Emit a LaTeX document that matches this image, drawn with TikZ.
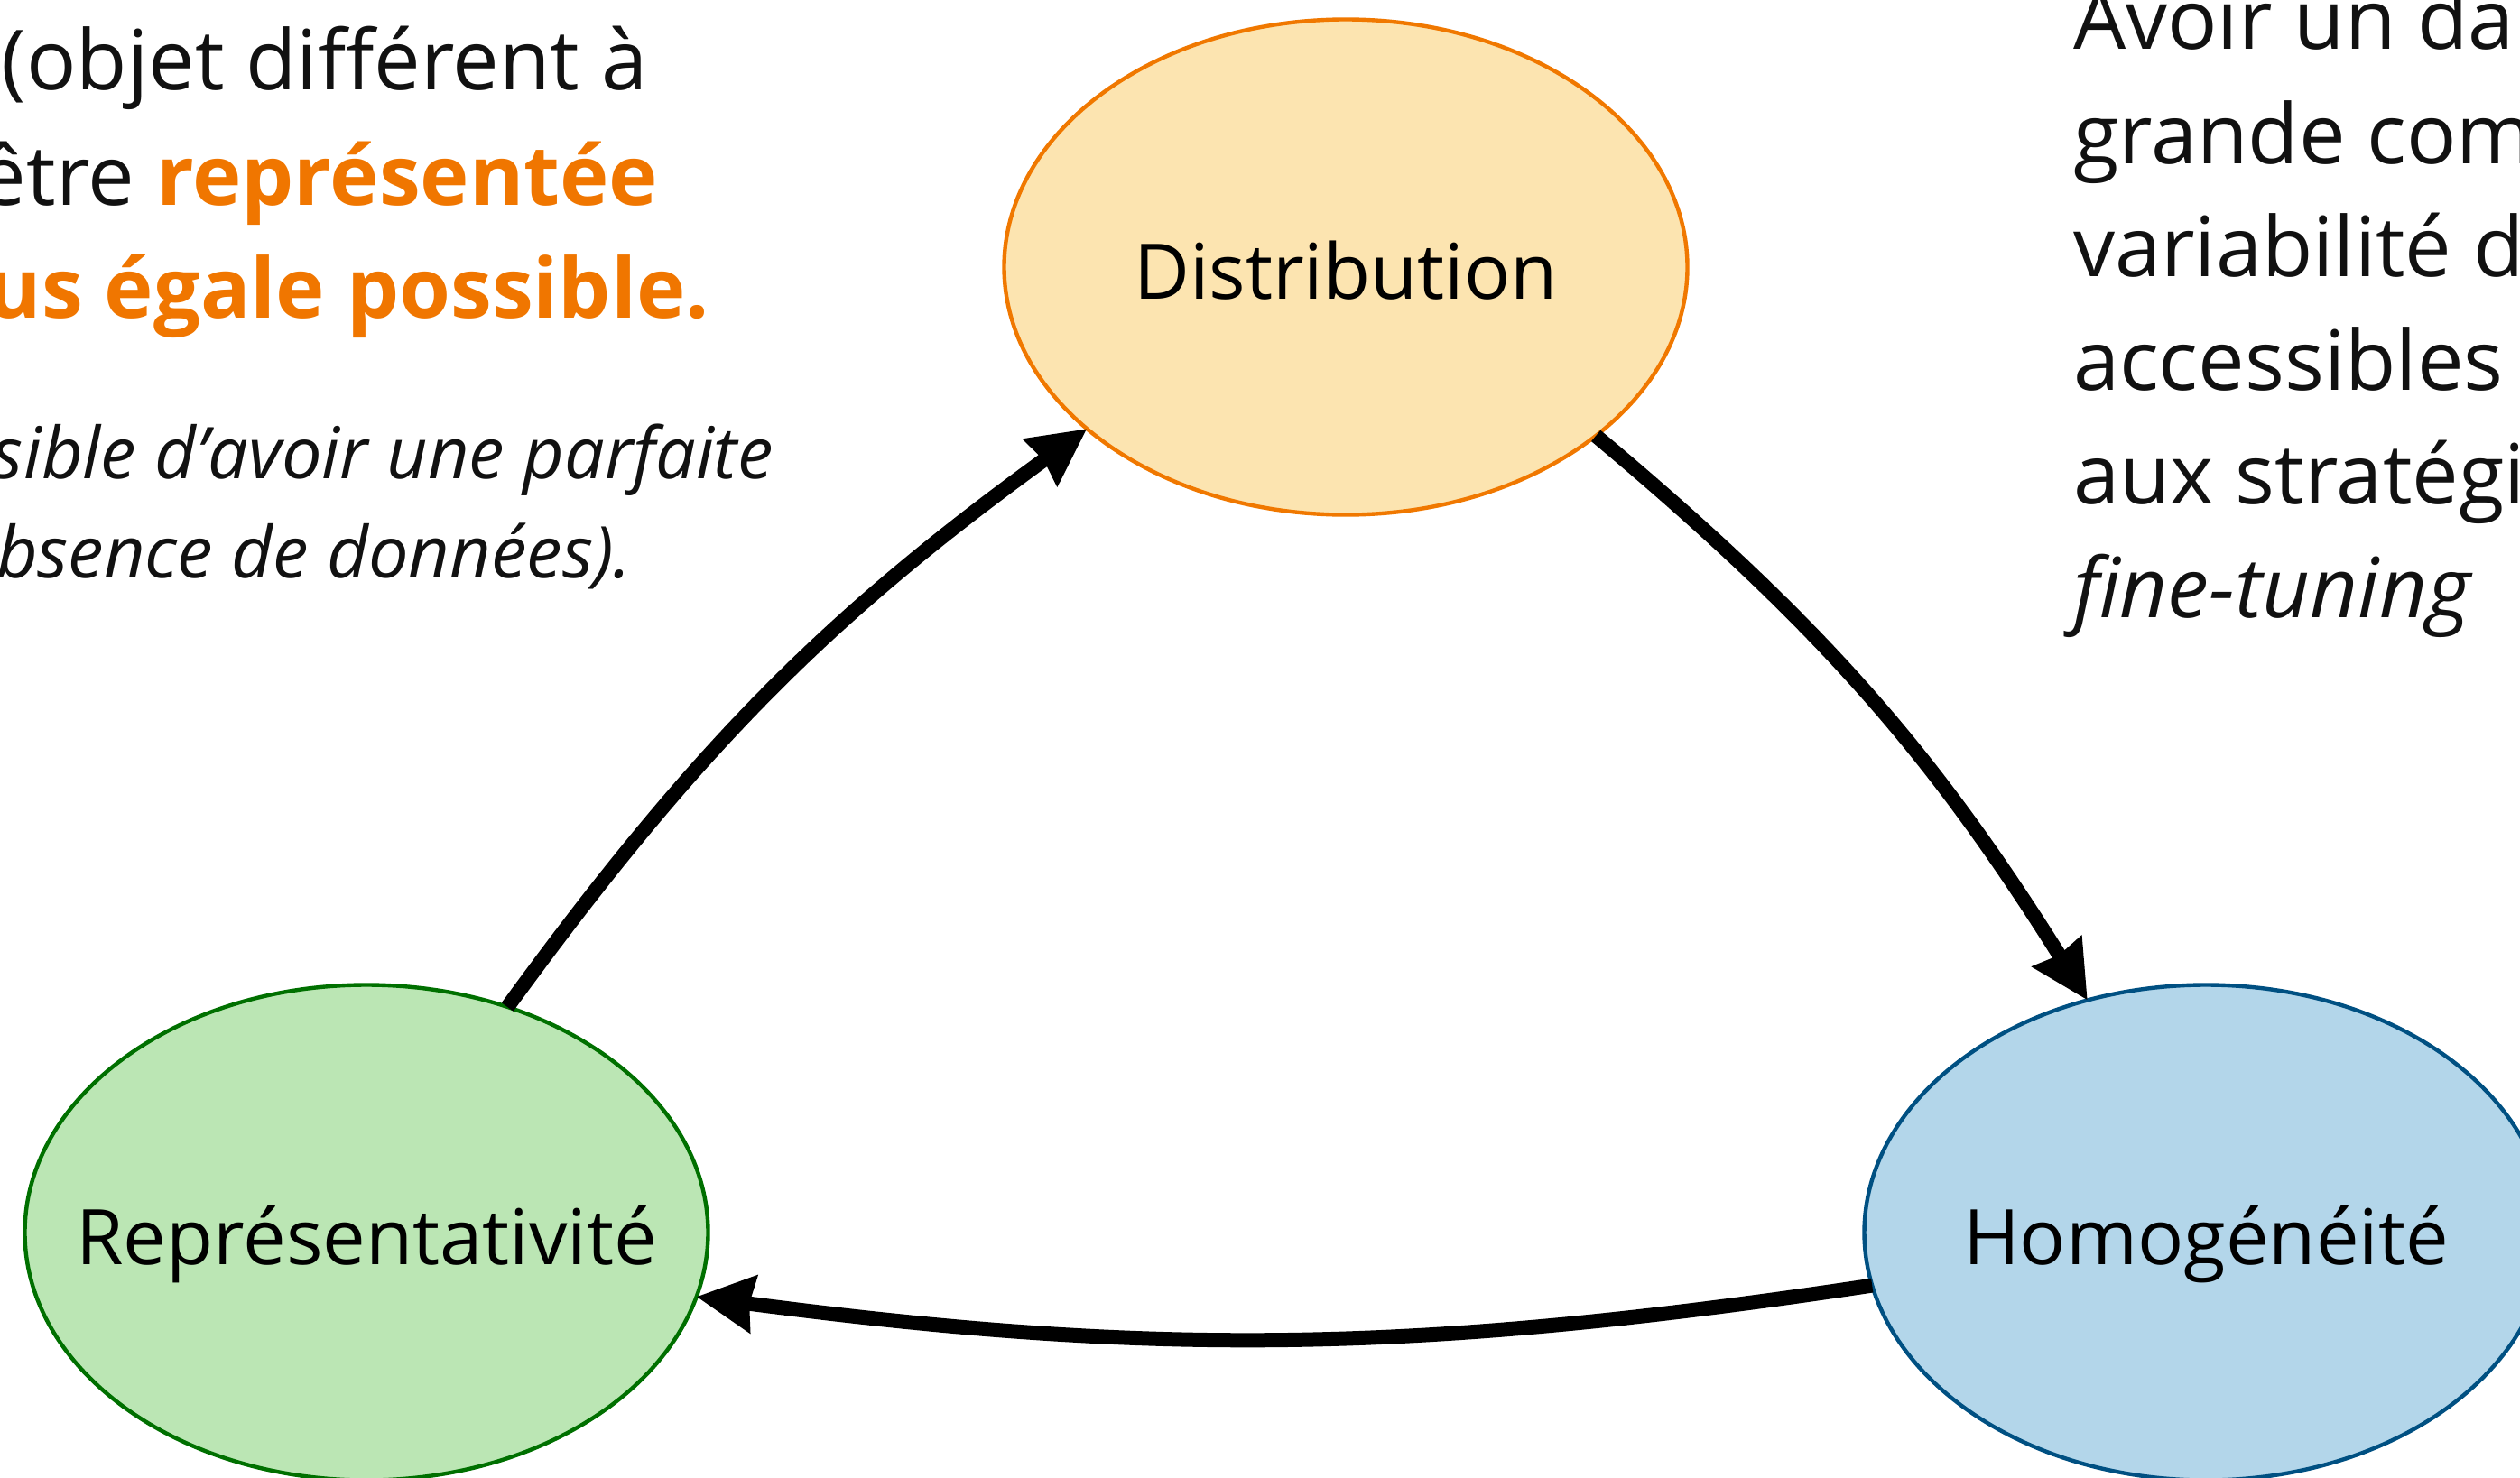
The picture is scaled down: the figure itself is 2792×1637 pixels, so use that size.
\documentclass[tikz,border=0pt]{standalone}
\usepackage{fontspec}
\setmainfont{Open Sans}
\usetikzlibrary{shapes.geometric,arrows.meta}
\definecolor{distfill}{RGB}{252,228,176}
\definecolor{distline}{RGB}{240,120,0}
\definecolor{repfill}{RGB}{187,230,180}
\definecolor{repline}{RGB}{0,112,0}
\definecolor{homfill}{RGB}{179,214,234}
\definecolor{homline}{RGB}{0,80,130}
\definecolor{hot}{RGB}{240,118,0}
\definecolor{txt}{RGB}{17,17,17}
\newcommand{\midtext}[1]{\makebox[0pt][c]{#1}}
\begin{document}
\begin{tikzpicture}[x=0.25pt,y=-0.25pt,
  bubble/.style={ellipse, draw, line width=1.1pt, minimum width=189.25pt, minimum height=137.25pt,
    inner sep=0pt, outer sep=0pt, text height=17.5pt, text depth=0pt,
    font=\fontsize{21.25}{25}\selectfont, text=black},
  link/.style={line width=4pt, draw=black, -{Stealth[length=15.75pt,width=15.5pt,inset=1pt]}},
  body/.style={anchor=base west, inner sep=0pt, outer sep=0pt, text=txt,
    font=\fontsize{23}{31.5}\selectfont},
  note/.style={anchor=base west, inner sep=0pt, outer sep=0pt, text=txt,
    font=\fontsize{19.8}{27.5}\selectfont\itshape},
]
\useasboundingbox (0,0) rectangle (2792,1637);

% left text
\node[body] (l1) at (2,100) {(objet différent à};
\node[body] (l2) at (-22,227) {être \textcolor{hot}{\bfseries représentée}};
\node[body, text=hot] (l3) at (-14,352) {\bfseries us égale possible.};
\node[note] (l4) at (-8,530) {sible d’avoir une parfaite};
\node[note] (l5) at (-4,640) {bsence de données).};

% right text
\node[body] (r1) at (2297,55) {Avoir un da};
\node[body] (r2) at (2297,181) {grande com};
\node[body] (r3) at (2297,306) {variabilité d};
\node[body] (r4) at (2297,432) {accessibles};
\node[body] (r5) at (2297,558) {aux stratégi};
\node[body, font=\fontsize{23}{31.5}\selectfont\itshape] (r6) at (2297,684) {fine-tuning};

% ellipses
\node[bubble, fill=distfill, draw=distline] (dist) at (1491,296) {\midtext{Distribution}};
\node[bubble, fill=repfill, draw=repline] (rep) at (406,1366) {\midtext{Représentativité}};
\node[bubble, fill=homfill, draw=homline] (hom) at (2444,1366) {\midtext{Homogénéité}};

% arrows
\draw[link] (rep.58) to[bend left=9] (dist.212);
\draw[link] (dist.-34.4) to[bend left=9] (hom.117.4);
\draw[link] (hom.189.8) to[bend left=8] (rep.349.5);
\end{tikzpicture}
\end{document}
